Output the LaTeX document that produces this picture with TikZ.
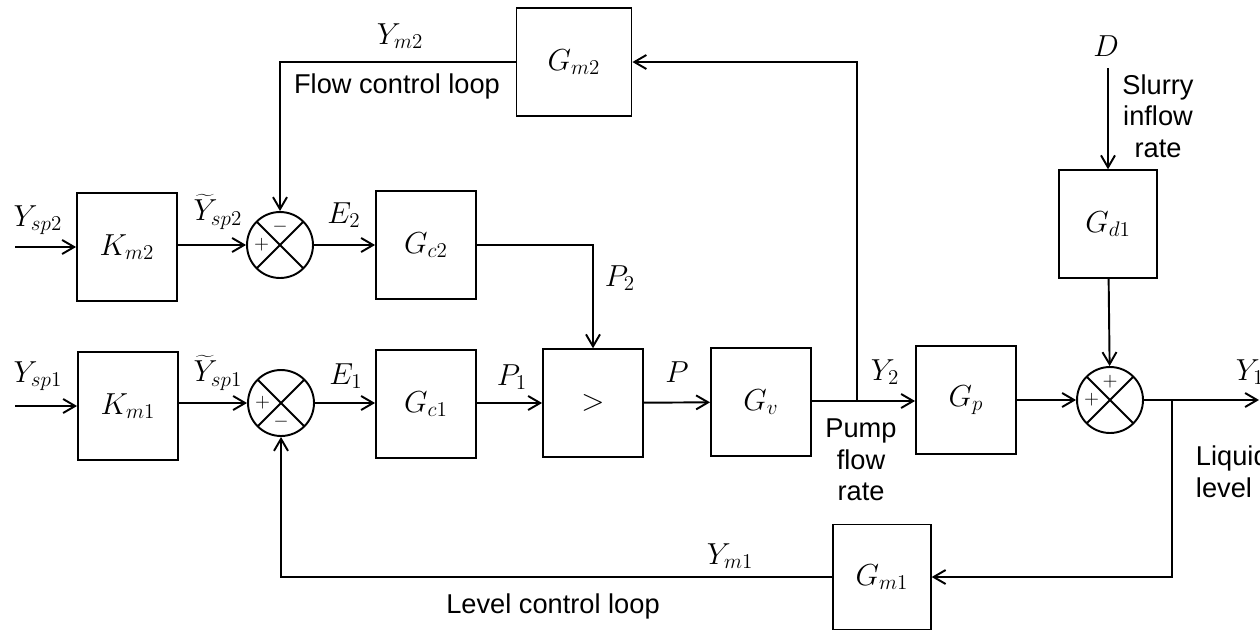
\documentclass[tikz,border=0pt]{standalone}
\usepackage{fontspec}
\setsansfont{Liberation Sans}
\DeclareMathSizes{16}{16}{12.5}{10}
\usetikzlibrary{arrows.meta}
\begin{document}
\begin{tikzpicture}[x=0.02cm, y=-0.02cm, line width=1.1pt,
    >={Straight Barb[length=2.4mm,width=2.8mm]},
    block/.style={draw, minimum width=2cm, minimum height=2.15cm, font=\fontsize{16}{19}\selectfont},
    sumj/.style={draw, circle, minimum size=1.32cm, inner sep=0pt,
        path picture={\draw (path picture bounding box.north east) -- (path picture bounding box.south west)
                            (path picture bounding box.north west) -- (path picture bounding box.south east);}},
    sgn/.style={font=\fontsize{11}{12}\selectfont, inner sep=0pt},
    lbl/.style={font=\fontsize{16}{19}\selectfont},
    txt/.style={font=\sffamily\fontsize{15.5}{18}\selectfont, align=center, inner sep=0pt}]
\useasboundingbox (0,0) rectangle (1260,632);

% blocks
\node[block] (Km2) at (127,247) {$K_{m2}$};
\node[block] (Km1) at (128,406) {$K_{m1}$};
\node[block] (Gc2) at (426,245) {$G_{c2}$};
\node[block] (Gc1) at (426,404) {$G_{c1}$};
\node[block] (mx) at (593,403) {$>$};
\node[block] (Gv) at (761,402) {$G_v$};
\node[block] (Gp) at (966,400) {$G_p$};
\node[block, minimum width=2.3cm] (Gm2) at (574,62) {$G_{m2}$};
\node[block, minimum width=1.95cm] (Gd1) at (1108,224) {$G_{d1}$};
\node[block, minimum width=1.95cm, minimum height=2.1cm] (Gm1) at (882,577) {$G_{m1}$};

% summing junctions
\node[sumj] (s2) at (280,245) {};
\node[sumj] (s1) at (281,403) {};
\node[sumj] (s3) at (1110,400) {};
\node[sgn] (s2a) at ([xshift=-0.37cm]s2.center) {$+$};
\node[sgn] (s2b) at ([yshift=0.37cm]s2.center) {$-$};
\node[sgn] (s1a) at ([xshift=-0.37cm]s1.center) {$+$};
\node[sgn] (s1b) at ([yshift=-0.37cm]s1.center) {$-$};
\node[sgn] (s3a) at ([xshift=-0.37cm]s3.center) {$+$};
\node[sgn] (s3b) at ([yshift=0.37cm]s3.center) {$+$};

% free ends and branch points
\coordinate (in2) at (15,247);
\coordinate (in1) at (15,406);
\coordinate (dist) at (1108,68);
\coordinate (br2) at (857,401);
\coordinate (br1) at (1172,400);
\coordinate (out) at (1259,400);

% signals
\draw[->] (in2) -- (Km2);
\draw[->] (in1) -- (Km1);
\draw[->] (Km2.east |- s2) -- (s2);
\draw[->] (Km1.east |- s1) -- (s1);
\draw[->] (s2) -- (s2 -| Gc2.west);
\draw[->] (s1) -- (s1 -| Gc1.west);
\draw[->] (Gc2.east) -| (mx.north);
\draw[->] (Gc1.east |- mx) -- (mx);
\draw[->] (mx) -- (Gv);
\draw[->] (Gv.east |- br2) -- (br2 -| Gp.west);
\draw[->] (Gp) -- (s3);
\draw[->] (dist) -- (Gd1);
\draw[->] (Gd1) -- (s3);
\draw[->] (s3) -- (out);

% loops
\draw[->] (br2) |- (Gm2.east);
\draw[->] (Gm2.west) -| (s2.north);
\draw[->] (br1) |- (Gm1.east);
\draw[->] (Gm1.west) -| (s1.south);

% labels
\node[lbl] (lYsp2) at (38,220) {$Y_{sp2}$};
\node[lbl] (lYsp1) at (38,376) {$Y_{sp1}$};
\node[lbl] (lYt2) at (218,212) {$\widetilde{Y}_{sp2}$};
\node[lbl] (lYt1) at (218,373) {$\widetilde{Y}_{sp1}$};
\node[lbl] (lE2) at (344,215) {$E_2$};
\node[lbl] (lE1) at (346,376) {$E_1$};
\node[lbl] (lP2) at (620,278) {$P_2$};
\node[lbl] (lP1) at (512,377) {$P_1$};
\node[lbl] (lP) at (677,372) {$P$};
\node[lbl] (lY2) at (885,372) {$Y_2$};
\node[lbl] (lYm2) at (400,36) {$Y_{m2}$};
\node[lbl] (lYm1) at (730,556) {$Y_{m1}$};
\node[lbl] (lD) at (1106,46) {$D$};
\node[lbl, anchor=west] (lY1) at (1229,372) {$Y_1$};
\node[txt] (tflow) at (397,86) {Flow control loop};
\node[txt] (tlevel) at (553,606) {Level control loop};
\node[txt] (tslurry) at (1158,116) {Slurry\\inflow\\rate};
\node[txt] (tpump) at (861,460) {Pump\\flow\\rate};
\node[txt, anchor=north west, align=left] (tliq) at (1195,445) {Liquid\\level};
\end{tikzpicture}
\end{document}
